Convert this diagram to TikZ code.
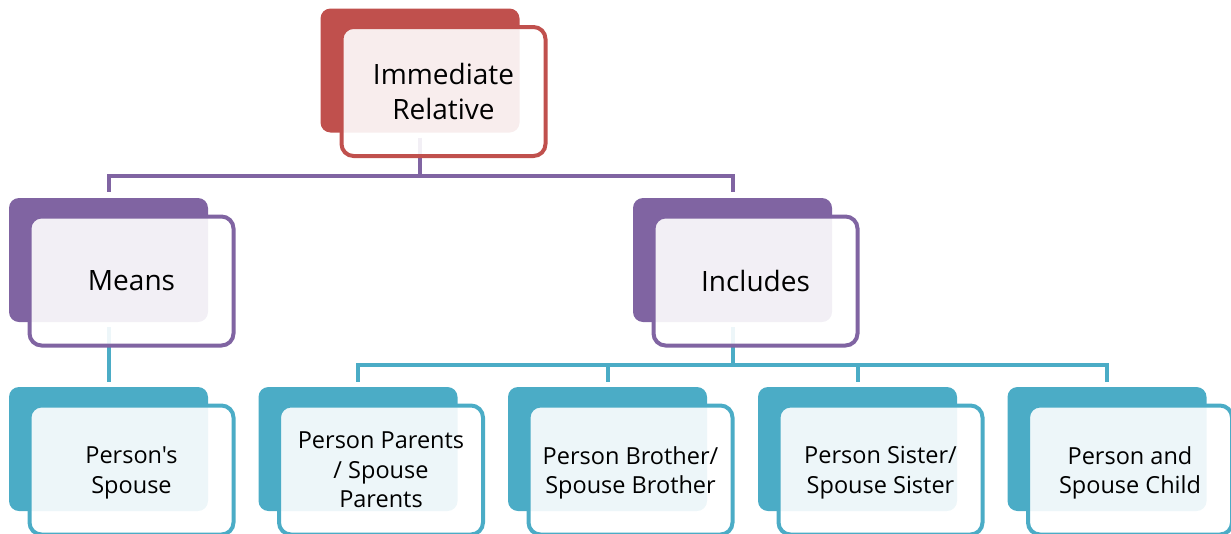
\documentclass[tikz,border=0pt]{standalone}
\usepackage{fontspec}
\setmainfont{Open Sans}[Ligatures=TeXOff]
\definecolor{cred}{HTML}{C0504D}
\definecolor{cpur}{HTML}{8064A2}
\definecolor{ctea}{HTML}{4BACC6}
\tikzset{
  backbox/.style={rectangle, rounded corners=10pt, fill=#1, draw=none,
    minimum width=199pt, minimum height=124pt, inner sep=0pt},
  frontbox/.style={rectangle, rounded corners=12pt, draw=#1, line width=4pt,
    fill=white, fill opacity=0.9, text opacity=1, text depth=0pt,
    minimum width=204pt, minimum height=129pt, inner sep=0pt, align=center, text=black},
  bigtext/.style={font=\fontsize{28}{35}\selectfont},
  smalltext/.style={font=\fontsize{23.5}{29.5}\selectfont},
  conn/.style={draw=#1, line width=4pt}
}
\begin{document}
\begin{tikzpicture}[x=1pt,y=-1pt]
\useasboundingbox (0,0) rectangle (1231,533);
\clip (0,0) rectangle (1231,533);
% back boxes
\node[backbox=cred] (irb) at (420,70.5) {};
\node[backbox=cpur] (mb) at (108.5,260) {};
\node[backbox=cpur] (ib) at (732.5,260) {};
\node[backbox=ctea] (sb) at (108.5,449) {};
\node[backbox=ctea] (c1b) at (358,449) {};
\node[backbox=ctea] (c2b) at (607.5,449) {};
\node[backbox=ctea] (c3b) at (857.5,449) {};
\node[backbox=ctea] (c4b) at (1107,449) {};
% connectors
\coordinate (bus1) at (0,176);
\coordinate (bus2) at (0,365);
\draw[conn=cpur] ([yshift=-5pt]irb.south) -- (irb.south |- bus1);
\draw[conn=cpur] ([yshift=6pt]mb.north) |- (bus1 -| ib.north) -- ([yshift=6pt]ib.north);
\draw[conn=ctea] ([yshift=-5pt]mb.south) -- ([yshift=5pt]sb.north);
\draw[conn=ctea] ([yshift=-5pt]ib.south) -- (ib.south |- bus2);
\draw[conn=ctea] ([yshift=5pt]c1b.north) |- (bus2 -| c4b.north) -- ([yshift=5pt]c4b.north);
\draw[conn=ctea] (bus2 -| c2b.north) -- ([yshift=5pt]c2b.north);
\draw[conn=ctea] (bus2 -| c3b.north) -- ([yshift=5pt]c3b.north);
% front boxes
\node[frontbox=cred, bigtext] (ir) at (443.5,91.5) {Immediate\\Relative};
\node[frontbox=cpur, bigtext] (m) at (131.5,281) {Means};
\node[frontbox=cpur, bigtext] (i) at (755.5,281) {Includes};
\node[frontbox=ctea, smalltext] (s) at (131.5,470) {Person's\\Spouse};
\node[frontbox=ctea, smalltext] (c1) at (381,470) {Person Parents\\/ Spouse\\Parents};
\node[frontbox=ctea, smalltext] (c2) at (630.5,470) {Person Brother/\\Spouse Brother};
\node[frontbox=ctea, smalltext] (c3) at (880.5,470) {Person Sister/\\Spouse Sister};
\node[frontbox=ctea, smalltext] (c4) at (1130,470) {Person and\\Spouse Child};
\end{tikzpicture}
\end{document}
